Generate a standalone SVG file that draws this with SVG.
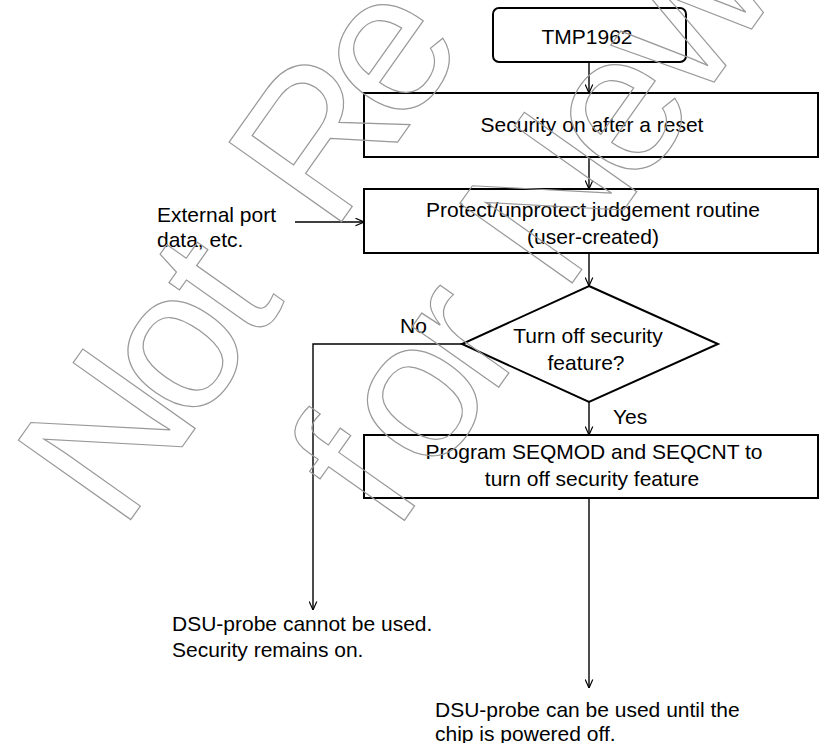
<svg xmlns="http://www.w3.org/2000/svg" width="822" height="743" viewBox="0 0 822 743">
<style>
.box{fill:none;stroke:#000;stroke-width:2}
.ln{fill:none;stroke:#000;stroke-width:1.4}
.t{font-family:"Liberation Sans",Arial,sans-serif;font-size:21px;fill:#000}
.m{text-anchor:middle}
.wm{font-family:"Liberation Sans",Arial,sans-serif;font-size:200px;fill:none;stroke:#999;stroke-width:1.2}
</style>
<defs>
<marker id="arr" viewBox="0 0 10 10" refX="10" refY="5" markerWidth="9" markerHeight="9" markerUnits="userSpaceOnUse" orient="auto">
<path d="M0.5,0.8 L10,5 L0.5,9.2" fill="none" stroke="#000" stroke-width="1.3"/>
</marker>
</defs>
<rect width="822" height="743" fill="#fff"/>
<g id="connectors">
<line class="ln" x1="589" y1="62" x2="589" y2="93" marker-end="url(#arr)"/>
<line class="ln" x1="589" y1="157" x2="589" y2="189" marker-end="url(#arr)"/>
<line class="ln" x1="295" y1="222" x2="364" y2="222" marker-end="url(#arr)"/>
<line class="ln" x1="589" y1="253" x2="589" y2="286" marker-end="url(#arr)"/>
<line class="ln" x1="589" y1="402" x2="589" y2="435" marker-end="url(#arr)"/>
<polyline class="ln" points="462,344 313,344 313,610" marker-end="url(#arr)"/>
<line class="ln" x1="589" y1="498" x2="589" y2="688" marker-end="url(#arr)"/>
<text class="t" x="400" y="333">No</text>
<text class="t" x="613" y="424">Yes</text>
</g>
<g id="start">
<rect class="box" x="493" y="8" width="193" height="54" rx="6"/>
<text class="t m" x="587" y="44">TMP1962</text>
</g>
<g id="security-on">
<rect class="box" x="364" y="93" width="454" height="64"/>
<text class="t m" x="592" y="132">Security on after a reset</text>
</g>
<g id="judgement">
<rect class="box" x="364" y="189" width="454" height="64"/>
<text class="t m" x="593" y="217">Protect/unprotect judgement routine</text>
<text class="t m" x="593" y="244">(user-created)</text>
</g>
<g id="external">
<text class="t" x="157" y="222">External port</text>
<text class="t" x="157" y="247">data, etc.</text>
</g>
<g id="decision">
<polygon class="box" points="589,286 718,344 589,402 462,344"/>
<text class="t m" x="588" y="343">Turn off security</text>
<text class="t m" x="586" y="370">feature?</text>
</g>
<g id="program">
<rect class="box" x="364" y="435" width="454" height="63"/>
<text class="t m" x="594" y="459">Program SEQMOD and SEQCNT to</text>
<text class="t m" x="592" y="486">turn off security feature</text>
</g>
<g id="result-no">
<text class="t" x="172" y="631">DSU-probe cannot be used.</text>
<text class="t" x="172" y="657">Security remains on.</text>
</g>
<g id="result-yes">
<text class="t" x="435" y="717">DSU-probe can be used until the</text>
<text class="t" x="435" y="741">chip is powered off.</text>
</g>
<g id="watermark" transform="translate(130,520.7) rotate(-54.75)">
<text class="wm" x="-15 111 214 290 350 475" y="0">Not Re</text>
<text class="wm" x="141 209 308 370 433 560 666" y="224">for New</text>
</g>
</svg>
